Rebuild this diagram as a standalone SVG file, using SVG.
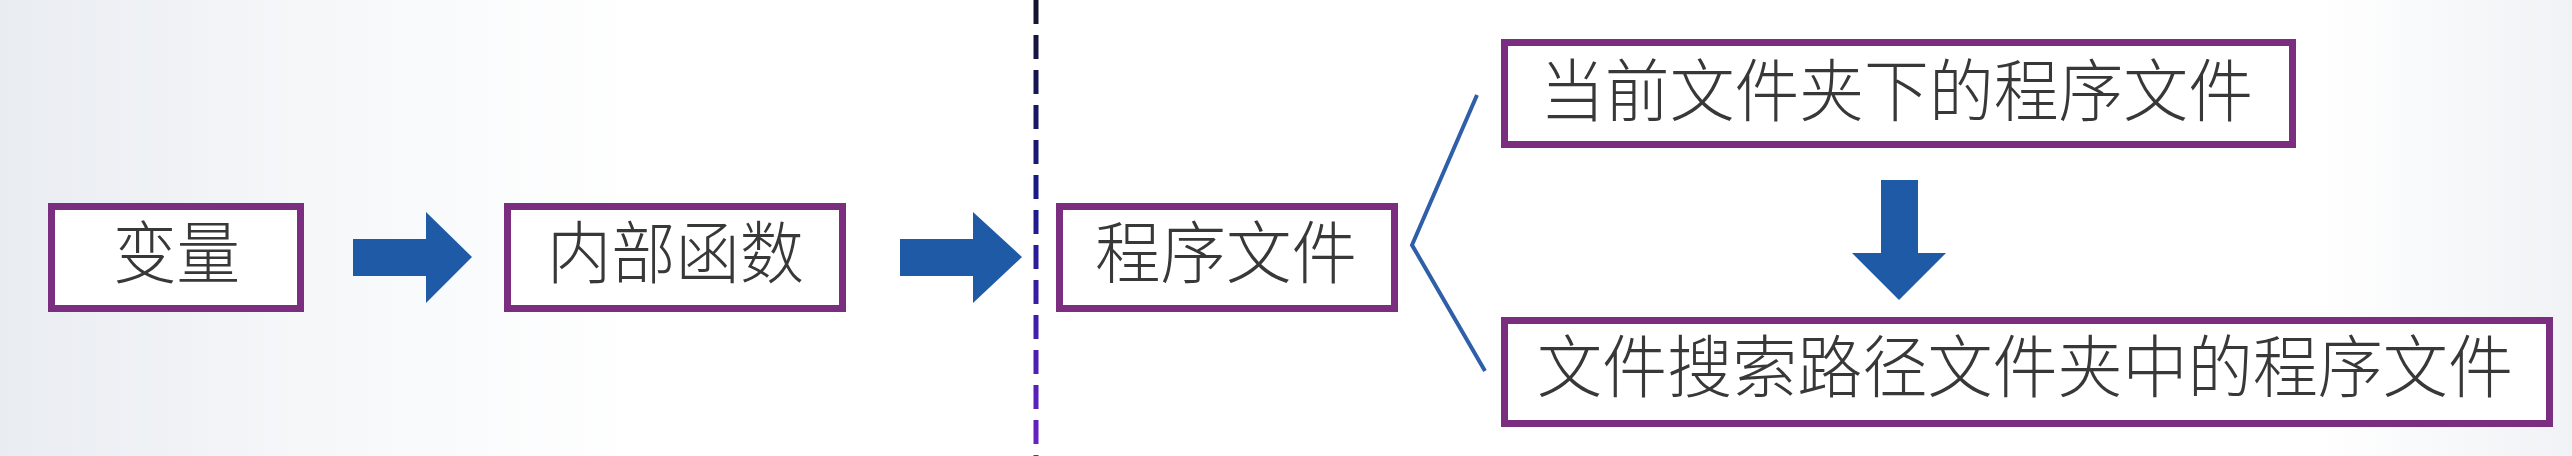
<svg xmlns="http://www.w3.org/2000/svg" width="2572" height="456" viewBox="0 0 2572 456">
<defs>
<linearGradient id="bg" x1="0" y1="0" x2="1" y2="0">
<stop offset="0" stop-color="#e9ecf1"/>
<stop offset="0.12" stop-color="#f5f7f9"/>
<stop offset="0.25" stop-color="#ffffff"/>
<stop offset="0.9" stop-color="#ffffff"/>
<stop offset="1" stop-color="#f0f2f5"/>
</linearGradient>
<linearGradient id="dash" gradientUnits="userSpaceOnUse" x1="0" y1="0" x2="0" y2="456">
<stop offset="0" stop-color="#14142a"/>
<stop offset="0.45" stop-color="#1a1a8e"/>
<stop offset="1" stop-color="#6a22c8"/>
</linearGradient>
<style>
.box{fill:#ffffff;stroke:#7b2d80;stroke-width:7}
.lbl{font-family:"Noto Sans CJK SC","Noto Sans",sans-serif;font-size:68px;font-weight:300;fill:#383838}
.arr{fill:#1f5aa6}
.br{fill:none;stroke:#2e5fa8;stroke-width:4;stroke-linejoin:miter}
</style>
</defs>
<rect x="0" y="0" width="2572" height="456" fill="url(#bg)"/>
<g id="connectors">
<line x1="1036" y1="0" x2="1036" y2="456" stroke="url(#dash)" stroke-width="5" stroke-dasharray="24 11"/>
<polygon class="arr" points="353,239 426,239 426,212 472,257 426,303 426,276 353,276"/>
<polygon class="arr" points="900,239 973,239 973,212 1022,257 973,303 973,276 900,276"/>
<polygon class="arr" points="1881,180 1918,180 1918,253 1946,253 1899,300 1852,253 1881,253"/>
<polyline class="br" points="1477,95 1412,245 1485,371"/>
</g>
<g id="node-bianliang">
<rect class="box" x="51.5" y="206.5" width="249" height="102"/>
<text class="lbl" x="113" y="278" textLength="127" lengthAdjust="spacingAndGlyphs">变量</text>
</g>
<g id="node-neibuhanshu">
<rect class="box" x="507.5" y="206.5" width="335" height="102"/>
<text class="lbl" x="547" y="278" textLength="257" lengthAdjust="spacingAndGlyphs">内部函数</text>
</g>
<g id="node-chengxuwenjian">
<rect class="box" x="1059.5" y="206.5" width="335" height="102"/>
<text class="lbl" x="1095" y="278" textLength="262" lengthAdjust="spacingAndGlyphs">程序文件</text>
</g>
<g id="node-current">
<rect class="box" x="1504.5" y="42.5" width="788" height="102"/>
<text class="lbl" x="1540" y="116" textLength="713" lengthAdjust="spacingAndGlyphs">当前文件夹下的程序文件</text>
</g>
<g id="node-searchpath">
<rect class="box" x="1504.5" y="320.5" width="1045" height="103"/>
<text class="lbl" x="1537" y="392" textLength="976" lengthAdjust="spacingAndGlyphs">文件搜索路径文件夹中的程序文件</text>
</g>
</svg>
